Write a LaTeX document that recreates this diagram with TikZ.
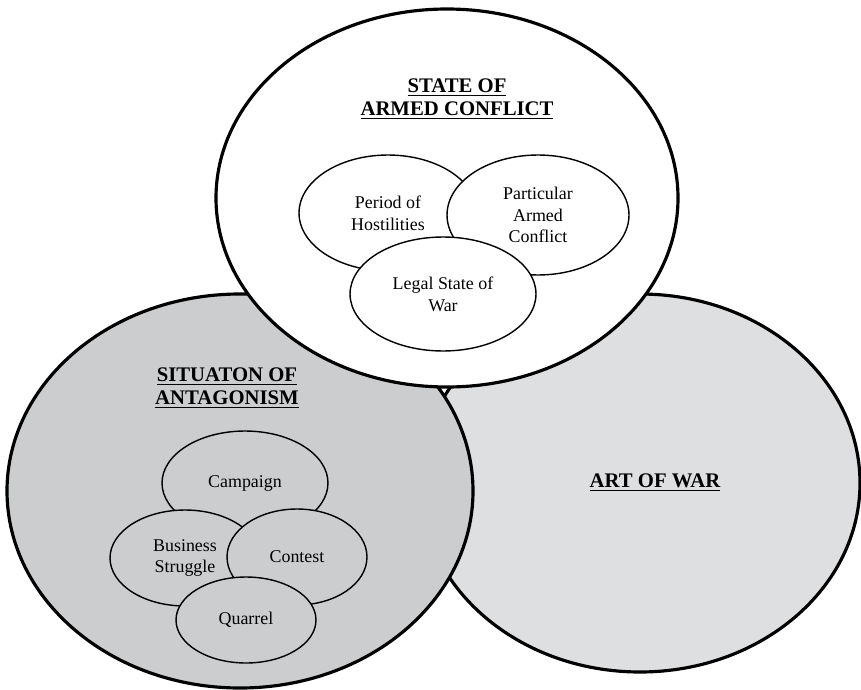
\documentclass[tikz,border=0pt]{standalone}
\usepackage{fontspec}
\setmainfont{Liberation Serif}
\usetikzlibrary{shapes.geometric}
\tikzset{bigset/.style = {draw, line width = 1.8pt}}
\tikzset{subset/.style = {draw, ellipse, line width = 0.8pt, inner sep = 0,
                          align = center, font = \fontsize{10.2}{12.4}\selectfont}}
\tikzset{heading/.style = {align = center, font = \fontsize{11.8}{13}\selectfont\bfseries}}
\definecolor{lgray}{RGB}{204, 205, 207}
\definecolor{rgray}{RGB}{222, 223, 225}

\begin{document}
\begin{tikzpicture}[x=0.02cm, y=-0.02cm]
      \useasboundingbox (0, 0) rectangle (861, 689);

      \filldraw [bigset, fill=rgray] (640, 483) ellipse [x radius=220, y radius=189];
      \filldraw [bigset, fill=lgray] (240, 491) ellipse [x radius=233, y radius=197];
      \filldraw [bigset, fill=white] (447, 198) ellipse [x radius=231, y radius=189];

      \node [heading] (armed) at (457, 99) {\underline{STATE OF}\\\underline{ARMED CONFLICT}};
      \node [subset, fill=white, minimum width=3.56cm, minimum height=2.32cm]
        (hostil) at (388, 213) {Period of\\Hostilities};
      \node [subset, fill=white, minimum width=3.64cm, minimum height=2.4cm]
        (particular) at (538, 215) {Particular\\Armed\\Conflict};
      \node [subset, fill=white, minimum width=3.72cm, minimum height=2.28cm]
        (legal) at (443, 294) {Legal State of\\War};

      \node [heading] (antag) at (227, 388) {\underline{SITUATON OF}\\\underline{ANTAGONISM}};
      \node [subset, fill=lgray, minimum width=3.32cm, minimum height=2.08cm]
        (campaign) at (245, 483) {Campaign};
      \node [subset, fill=lgray, minimum width=3cm, minimum height=1.92cm]
        (business) at (185, 558) {Business\\Struggle};
      \node [subset, fill=lgray, minimum width=2.8cm, minimum height=1.92cm]
        (contest) at (297, 557) {Contest};
      \node [subset, fill=lgray, minimum width=2.8cm, minimum height=1.72cm]
        (quarrel) at (246, 620) {Quarrel};

      \node [heading] (artwar) at (655, 483) {\underline{ART OF WAR}};
    \end{tikzpicture}
\end{document}
